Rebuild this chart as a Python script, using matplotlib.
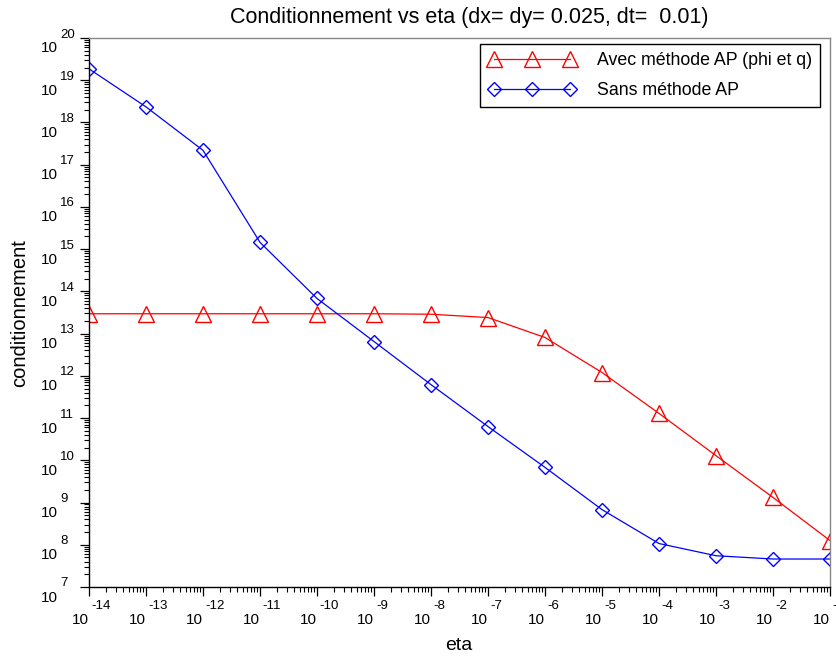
import matplotlib.pyplot as plt
import matplotlib.transforms as mtransforms
from matplotlib.ticker import LogLocator, NullFormatter

plt.rcParams["font.family"] = ["Liberation Sans", "DejaVu Sans"]

# eta = 10^k, k = -14 .. -1
eta_exp = [-14, -13, -12, -11, -10, -9, -8, -7, -6, -5, -4, -3, -2, -1]
eta = [10.0 ** k for k in eta_exp]

cond_ap = [2.95e13, 2.95e13, 2.95e13, 2.95e13, 2.95e13, 2.95e13, 2.88e13,
           2.40e13, 8.1e12, 1.2e12, 1.29e11, 1.29e10, 1.32e9, 1.26e8]
cond_sans = [1.86e19, 2.34e18, 2.19e17, 1.45e15, 6.8e13, 6.5e12, 6.2e11,
             6.3e10, 6.8e9, 6.8e8, 1.07e8, 5.5e7, 4.6e7, 4.6e7]

y_exp = list(range(7, 21))

label_ap = "Avec méthode AP (phi et q)"
label_sans = "Sans méthode AP"
title = "Conditionnement vs eta (dx= dy= 0.025, dt=  0.01)"

W, H = 837, 657
fig = plt.figure(figsize=(W / 100, H / 100), dpi=100)
ax = fig.add_axes([89 / W, 1 - 587 / H, 741 / W, 549 / H])

ax.plot(eta, cond_ap, color="red", lw=0.9, marker="^", ms=11.5,
        mfc="none", mec="red", mew=1.0, label=label_ap)
ax.plot(eta, cond_sans, color="blue", lw=0.9, marker="D", ms=7.5,
        mfc="none", mec="blue", mew=1.0, label=label_sans)

ax.set_xscale("log")
ax.set_yscale("log")
ax.set_xlim(1e-14, 1e-1)
ax.set_ylim(1e7, 1e20)

for a in (ax.xaxis, ax.yaxis):
    a.set_major_locator(LogLocator(base=10, numticks=30))
    a.set_minor_locator(LogLocator(base=10, subs=range(2, 10), numticks=30))
    a.set_major_formatter(NullFormatter())
    a.set_minor_formatter(NullFormatter())
ax.tick_params(which="major", direction="out", length=6.5, width=0.9, color="black")
ax.tick_params(which="minor", direction="out", length=3.5, width=0.8, color="black")

for side in ("left", "bottom"):
    ax.spines[side].set_color("black")
    ax.spines[side].set_linewidth(1.0)
for side in ("top", "right"):
    ax.spines[side].set_color("#888888")
    ax.spines[side].set_linewidth(1.0)


def px(dx, dy):
    return mtransforms.ScaledTranslation(dx / 100, dy / 100, fig.dpi_scale_trans)


# Scilab-style tick labels: "10" with the exponent raised beside it
ytr = ax.get_yaxis_transform()
for k in y_exp:
    ax.text(0, 10.0 ** k, "10", fontsize=11, ha="right", va="center",
            transform=ytr + px(-31, -10.5), clip_on=False)
    ax.text(0, 10.0 ** k, str(k), fontsize=9.5, ha="left", va="baseline",
            transform=ytr + px(-29, 0.5), clip_on=False)

xtr = ax.get_xaxis_transform()
for k in eta_exp:
    ax.text(10.0 ** k, 0, "10", fontsize=11, ha="right", va="center",
            transform=xtr + px(0, -32.5), clip_on=False)
    ax.text(10.0 ** k, 0, str(k), fontsize=9.5, ha="left", va="center",
            transform=xtr + px(2, -19), clip_on=False)

fig.text(469 / W, 1 - 17 / H, title, fontsize=15.5, ha="center", va="center")
fig.text(459 / W, 1 - 645 / H, "eta", fontsize=14, ha="center", va="center")
fig.text(20 / W, 1 - 313 / H, "conditionnement", fontsize=14.5, rotation=90,
         ha="center", va="center")

leg = ax.legend(loc="upper right", bbox_to_anchor=(820 / W, 1 - 44 / H),
                bbox_transform=fig.transFigure, borderaxespad=0, numpoints=3,
                fancybox=False, framealpha=1, edgecolor="black", fontsize=12.8,
                handlelength=4.9, handletextpad=1.2, borderpad=0.45,
                labelspacing=0.75)
leg.get_frame().set_linewidth(1.0)

fig.savefig("out.png", dpi=100)
